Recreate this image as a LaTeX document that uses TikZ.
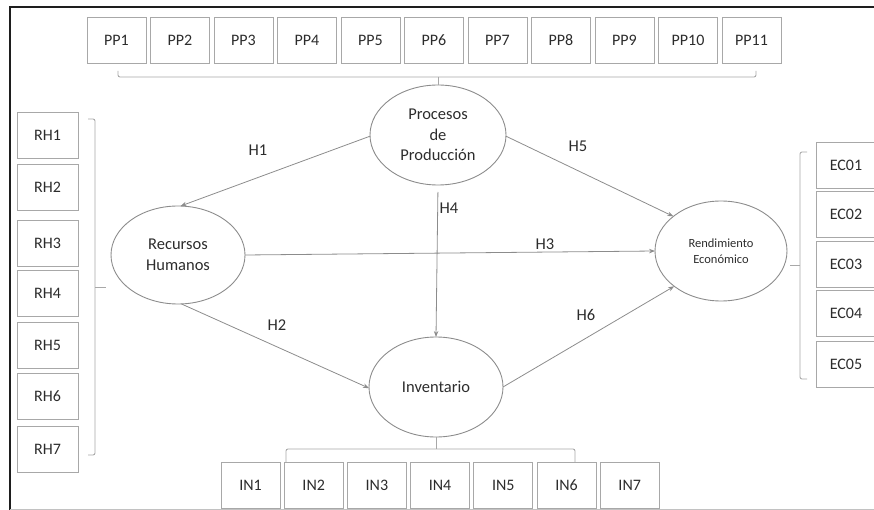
\documentclass[tikz,border=0pt]{standalone}
\usepackage{fontspec}
\setmainfont{Carlito}
\usetikzlibrary{shapes.geometric,arrows.meta}

\definecolor{txt}{HTML}{2C2C2C}
\definecolor{boxgray}{HTML}{A8A8A8}
\definecolor{linegray}{HTML}{8C8C8C}
\definecolor{framedark}{HTML}{1E1E1E}

\begin{document}
\begin{tikzpicture}[x=1pt,y=-1pt,
  ind/.style={draw=boxgray, line width=0.9pt, minimum width=59pt, minimum height=46pt,
    inner sep=0pt, outer sep=0pt, text=txt, font=\fontsize{16}{18}\selectfont},
  lat/.style={draw=linegray, line width=0.9pt, ellipse, inner sep=0pt, outer sep=0pt,
    align=center, text=txt, font=\fontsize{16.5}{20.5}\selectfont},
  hyp/.style={draw=linegray, line width=0.8pt, -{Stealth[length=6pt,width=4.5pt]}},
  brk/.style={draw=boxgray, line width=0.9pt, rounded corners=2pt},
  lbl/.style={text=txt, font=\fontsize{16.5}{18}\selectfont, inner sep=0pt}
]
\useasboundingbox (0,0) rectangle (874,510);

% outer frame
\draw[framedark, line width=1.6pt] (874,7) -- (10,7) -- (10,510);
\draw[boxgray!70, line width=0.8pt] (10,509) -- (874,509);

% indicator boxes
\foreach \i in {1,...,11}
  \node[ind] (pp\i) at ({116.5+63.5*(\i-1)},40) {PP\i};
\foreach \i/\y in {1/135,2/187,3/243.5,4/293.5,5/345,6/396.5,7/449}
  \node[ind, minimum width=61pt] (rh\i) at (47.5,\y) {RH\i};
\foreach \i/\y in {1/165,2/214,3/264,4/313,5/364}
  \node[ind, minimum width=60pt] (ec\i) at (846,\y) {EC0\i};
\foreach \i in {1,...,7}
  \node[ind] (in\i) at ({250.5+63.2*(\i-1)},485) {IN\i};

% latent constructs
\node[lat, minimum width=136pt, minimum height=100pt] (P) at (438,135)
  {Procesos\\de\\Producción};
\node[lat, minimum width=134pt, minimum height=98pt] (R) at (178,255)
  {Recursos\\Humanos};
\node[lat, minimum width=132pt, minimum height=100pt,
  font=\fontsize{12.5}{16}\selectfont] (E) at (721,251)
  {Rendimiento\\Económico};
\node[lat, minimum width=134pt, minimum height=100pt] (I) at (436,387)
  {Inventario};

% brackets grouping the indicators
\coordinate (ppL) at (118,71);
\coordinate (ppR) at (756,71);
\draw[brk] (ppL) -- (118,77) -- (756,77) -- (ppR);
\draw[brk] (438,77) -- (P.north);

\coordinate (rhT) at (88,119);
\coordinate (rhB) at (88,455);
\coordinate (rhM) at (106,287);
\draw[brk] (rhT) -- (95,119) -- (95,455) -- (rhB);
\draw[brk] (95,287) -- (rhM);

\coordinate (ecT) at (807,152);
\coordinate (ecB) at (807,379);
\coordinate (ecM) at (790,265);
\draw[brk] (ecT) -- (800,152) -- (800,379) -- (ecB);
\draw[brk] (800,265) -- (ecM);

\coordinate (inL) at (286,462);
\coordinate (inR) at (575,462);
\draw[brk] (inL) -- (286,449) -- (575,449) -- (inR);
\draw[brk] (436,449) -- (I.south);

% hypothesised paths
\draw[hyp] (P.181) -- (R.87);
\draw[hyp] (P.-1) -- (E.144);
\draw[hyp, shorten <=7pt] (P.south) -- (I.north);
\draw[hyp] (R.east) -- (E.180);
\draw[hyp] (R.-86) -- (I.181);
\draw[hyp] (I.east) -- (E.217);

% path labels
\node[lbl] (h1) at (258,150) {H1};
\node[lbl] (h5) at (578,146) {H5};
\node[lbl] (h4) at (449,208) {H4};
\node[lbl] (h3) at (545,244) {H3};
\node[lbl] (h2) at (277,325) {H2};
\node[lbl] (h6) at (586,315) {H6};
\end{tikzpicture}
\end{document}
